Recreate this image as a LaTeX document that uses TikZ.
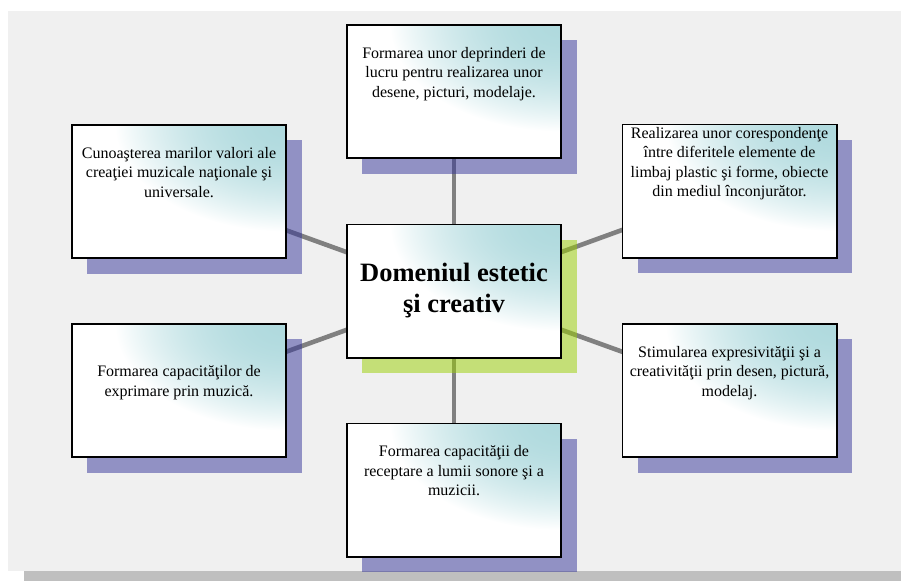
\documentclass[tikz,border=0pt]{standalone}
\usepackage{fontspec}
\setmainfont{Liberation Serif}
\definecolor{panelc}{RGB}{240,240,240}
\definecolor{stripc}{RGB}{191,191,191}
\definecolor{connc}{RGB}{128,128,128}
\definecolor{purpsh}{RGB}{51,51,153}
\definecolor{greensh}{RGB}{154,208,0}
\pgfdeclarefunctionalshading{cornerteal}{\pgfpoint{-50bp}{-50bp}}{\pgfpoint{50bp}{50bp}}{}{
  25 exch sub 50 div 0.8 div dup mul
  exch 25 exch sub 50 div 0.8 div dup mul
  add sqrt
  dup 1 gt {pop 1} if
  dup mul
  dup 79 mul 176 add 255 div exch
  dup 37 mul 218 add 255 div exch
  33 mul 222 add 255 div
}
\tikzset{
  boxshape/.style={rectangle, minimum width=214pt, minimum height=133pt, inner sep=0pt, draw=none},
  conn/.style={draw=connc, line width=4.6pt},
  shadowfill/.style={fill=purpsh, opacity=0.5},
  greenfill/.style={fill=greensh, opacity=0.5},
  boxborder/.style={draw=black, line width=1.6pt},
  boxtext/.style={anchor=base, align=center, inner sep=0pt, font=\fontsize{16}{19.5}\selectfont},
  centertext/.style={anchor=base, align=center, inner sep=0pt, font=\fontsize{26.5}{31}\selectfont\bfseries}
}
\newcommand{\shadowbox}[2]{%
  \fill[#2] ([shift={(15.5pt,-15.5pt)}]#1.north west) rectangle ([shift={(15.5pt,-15.5pt)}]#1.south east);}
\newcommand{\facebox}[1]{%
  \shade[shading=cornerteal] (#1.south west) rectangle (#1.north east);
  \draw[boxborder] (#1.north west) rectangle (#1.south east);}
\begin{document}
\begin{tikzpicture}[x=1pt,y=-1pt]
\useasboundingbox (0,0) rectangle (901,581);
\fill[white] (0,0) rectangle (901,581);
\fill[panelc] (8,11) rectangle (901,571);
\fill[stripc] (24,571) rectangle (901,581);
% node frames
\node[boxshape] (t)  at (454,91.5) {};
\node[boxshape] (lu) at (179,191.5) {};
\node[boxshape] (ru) at (729.5,191) {};
\node[boxshape] (c)  at (454,291) {};
\node[boxshape] (ll) at (179,390.5) {};
\node[boxshape] (rl) at (729.5,390.5) {};
\node[boxshape] (b)  at (454,490) {};
% connectors
\draw[conn] (c.center) -- (t.center);
\draw[conn] (c.center) -- (lu.center);
\draw[conn] (c.center) -- (ru.center);
\draw[conn] (c.center) -- (ll.center);
\draw[conn] (c.center) -- (rl.center);
\draw[conn] (c.center) -- (b.center);
% shadows
\shadowbox{t}{shadowfill}
\shadowbox{lu}{shadowfill}
\shadowbox{ru}{shadowfill}
\shadowbox{ll}{shadowfill}
\shadowbox{rl}{shadowfill}
\shadowbox{b}{shadowfill}
\shadowbox{c}{greenfill}
% faces
\facebox{t}
\facebox{lu}
\facebox{ru}
\facebox{ll}
\facebox{rl}
\facebox{b}
\facebox{c}
% texts
\node[boxtext] (tt) at (454,97) {Formarea unor deprinderi de\\lucru pentru realizarea unor\\desene, picturi, modelaje.};
\node[boxtext] (tlu) at (179,197) {Cunoaşterea marilor valori ale\\creaţiei muzicale naţionale şi\\universale.};
\node[boxtext] (tru) at (729.5,196.5) {Realizarea unor corespondenţe\\între diferitele elemente de\\limbaj plastic şi forme, obiecte\\din mediul înconjurător.};
\node[boxtext] (tll) at (179,396) {Formarea capacităţilor de\\exprimare prin muzică.};
\node[boxtext] (trl) at (729.5,396) {Stimularea expresivităţii şi a\\creativităţii prin desen, pictură,\\modelaj.};
\node[boxtext] (tb) at (454,495.5) {Formarea capacităţii de\\receptare a lumii sonore şi a\\muzicii.};
\node[centertext] (tc) at (454,312) {Domeniul estetic\\şi creativ};
\end{tikzpicture}
\end{document}
